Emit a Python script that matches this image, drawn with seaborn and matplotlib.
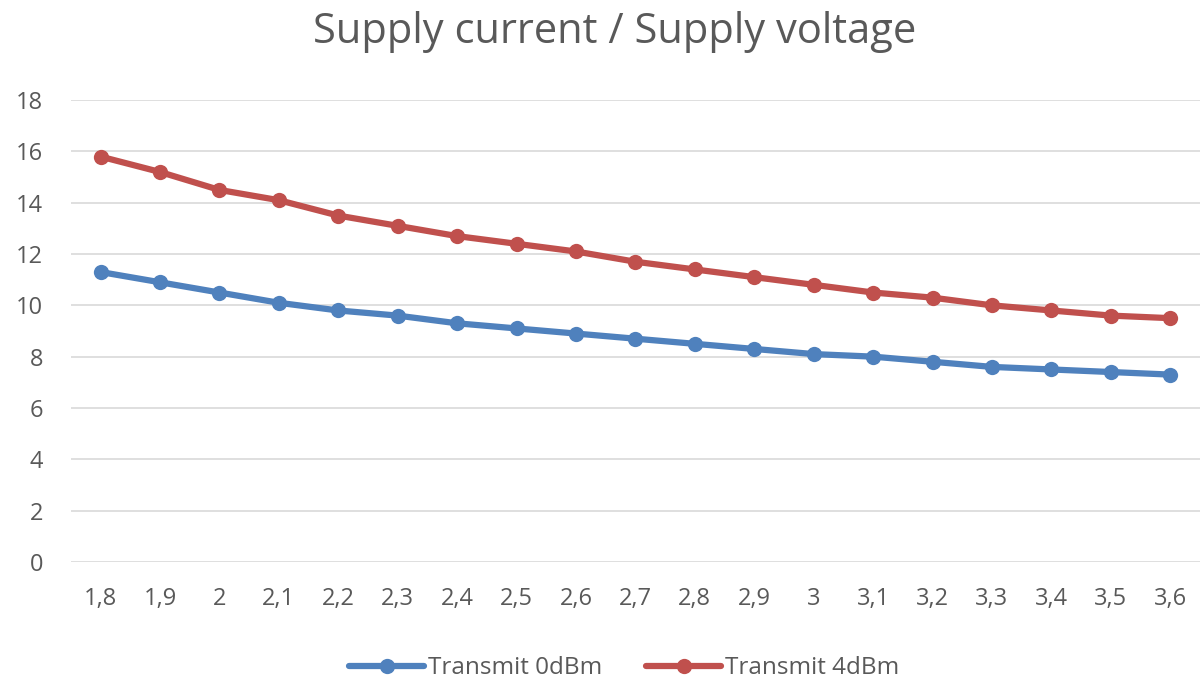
import numpy as np
import pandas as pd
import seaborn as sns
import matplotlib.pyplot as plt

# Supply voltage categories (comma decimals, as on the chart)
voltages = ['1,8', '1,9', '2', '2,1', '2,2', '2,3', '2,4', '2,5', '2,6', '2,7',
            '2,8', '2,9', '3', '3,1', '3,2', '3,3', '3,4', '3,5', '3,6']

# Supply current (mA)
tx_0dbm = [11.3, 10.9, 10.5, 10.1, 9.8, 9.6, 9.3, 9.1, 8.9, 8.7,
           8.5, 8.3, 8.1, 8.0, 7.8, 7.6, 7.5, 7.4, 7.3]
tx_4dbm = [15.8, 15.2, 14.5, 14.1, 13.5, 13.1, 12.7, 12.4, 12.1, 11.7,
           11.4, 11.1, 10.8, 10.5, 10.3, 10.0, 9.8, 9.6, 9.5]

series_names = ['Transmit 0dBm', 'Transmit 4dBm']
colors = ['#4F81BD', '#C0504D']

df = pd.concat([
    pd.DataFrame({'Voltage': voltages, 'Current': tx_0dbm, 'Series': series_names[0]}),
    pd.DataFrame({'Voltage': voltages, 'Current': tx_4dbm, 'Series': series_names[1]}),
])

sns.set_style('white')
plt.rcParams['font.family'] = ['Open Sans', 'DejaVu Sans']
GREY = '#595959'

fig = plt.figure(figsize=(12, 6.86), dpi=100)
ax = fig.add_axes([0.059, 0.181, 0.941, 0.673])

sns.lineplot(data=df, x='Voltage', y='Current', hue='Series',
             palette=colors, marker='o', markersize=11, markeredgewidth=0,
             linewidth=4.5, ax=ax, sort=False)

ax.set_xlim(-0.5, len(voltages) - 0.5)
ax.set_ylim(0, 18)
ax.set_yticks(np.arange(0, 19, 2))
ax.grid(axis='y', color='#d9d9d9', linewidth=1.2)
ax.set_axisbelow(True)
for s in ax.spines.values():
    s.set_visible(False)
ax.tick_params(axis='both', length=0, labelsize=17, labelcolor=GREY)
ax.tick_params(axis='y', pad=20)
ax.tick_params(axis='x', pad=18)
ax.set_xlabel('')
ax.set_ylabel('')

fig.text(0.512, 0.953, 'Supply current / Supply voltage', fontsize=30,
         color=GREY, ha='center', va='center')

ax.legend(loc='center', bbox_to_anchor=(0.49, -0.23), ncol=2,
          frameon=False, fontsize=17.5, labelcolor=GREY,
          handlelength=3.1, handletextpad=0.15, columnspacing=1.8)

fig.savefig('out.png', dpi=100)
